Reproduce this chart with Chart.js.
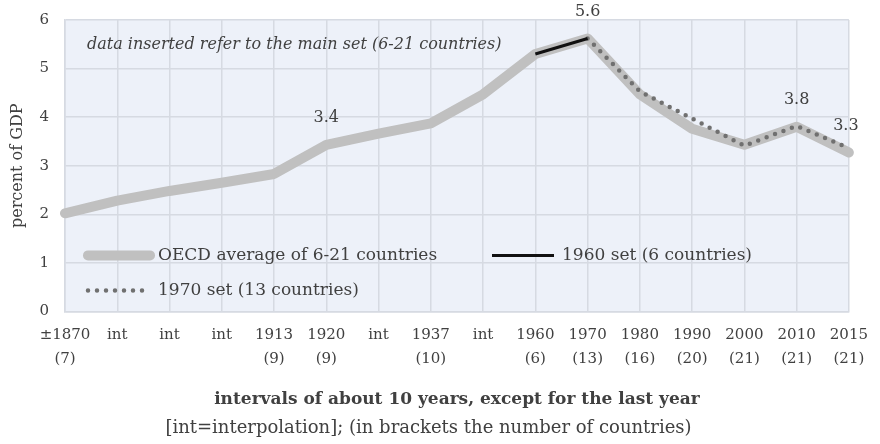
<!DOCTYPE html>
<html>
<head>
<meta charset="utf-8">
<script src="https://cdn.jsdelivr.net/npm/chart.js@4.4.1/dist/chart.umd.min.js"></script>
<style>
  html, body { margin: 0; padding: 0; background: #fff; }
  #wrap { width: 880px; height: 444px; }
</style>
</head>
<body>
<div id="wrap"><canvas id="myChart"></canvas></div>
<script>
var categories = ['±1870', 'int', 'int', 'int', '1913', '1920', 'int', '1937', 'int', '1960', '1970', '1980', '1990', '2000', '2010', '2015']
var countryCounts = ['(7)', '', '', '', '(9)', '(9)', '', '(10)', '', '(6)', '(13)', '(16)', '(20)', '(21)', '(21)', '(21)']
var oecdAverage = [2.02, 2.28, 2.48, 2.65, 2.83, 3.43, 3.66, 3.87, 4.47, 5.3, 5.62, 4.47, 3.76, 3.43, 3.8, 3.27]
var set1960 = [null, null, null, null, null, null, null, null, null, 5.3, 5.62, null, null, null, null, null]
var set1970 = [null, null, null, null, null, null, null, null, null, null, 5.62, 4.53, 3.97, 3.41, 3.82, 3.36]
var labelledPoints = [5, 10, 14, 15]
var yTicks = [0, 1, 2, 3, 4, 5, 6]

var serif = "'DejaVu Serif', serif"
var textColor = '#404040'

// plot background
var plotBg = {
    id: 'plotBg',
    beforeDraw: function(chart){
        var a = chart.chartArea, ctx = chart.ctx
        ctx.save()
        ctx.fillStyle = '#edf1f9'
        ctx.fillRect(a.left, a.top, a.right - a.left, a.bottom - a.top)
        ctx.restore()
    }
}

// value labels, note and legend inside the plot
var extras = {
    id: 'extras',
    afterDatasetsDraw: function(chart){
        var ctx = chart.ctx, a = chart.chartArea
        var meta = chart.getDatasetMeta(0)
        ctx.save()
        ctx.fillStyle = textColor
        ctx.font = '16px ' + serif
        ctx.textAlign = 'center'
        ctx.textBaseline = 'middle'
        labelledPoints.forEach(function(i){
            var p = meta.data[i]
            ctx.fillText(oecdAverage[i].toFixed(1), p.x - (i == 15 ? 3 : 0), p.y - 27)
        })

        ctx.font = 'italic 16px ' + serif
        ctx.textAlign = 'left'
        ctx.fillText('data inserted refer to the main set (6-21 countries)', a.left + 22, a.top + 25)

        // legend
        var ds = chart.data.datasets
        var items = [
            {d: ds[0], x: a.left + 23, y: a.bottom - 56},
            {d: ds[1], x: a.left + 427, y: a.bottom - 56},
            {d: ds[2], x: a.left + 23, y: a.bottom - 21}
        ]
        ctx.font = '17px ' + serif
        items.forEach(function(it){
            ctx.save()
            ctx.strokeStyle = it.d.borderColor
            ctx.lineWidth = it.d.borderWidth
            ctx.lineCap = it.d.borderCapStyle || 'butt'
            ctx.setLineDash(it.d.borderDash || [])
            ctx.beginPath()
            ctx.moveTo(it.x, it.y)
            ctx.lineTo(it.x + 62, it.y)
            ctx.stroke()
            ctx.restore()
            ctx.fillText(it.d.label, it.x + 70, it.y)
        })
        ctx.restore()
    }
}

var chart1 = new Chart(document.getElementById('myChart').getContext('2d'), {
    type: 'line',
    data: {
        labels: categories.map(function(c, i){ return countryCounts[i] ? [c, countryCounts[i]] : c }),
        datasets: [{
            label: 'OECD average of 6-21 countries',
            data: oecdAverage,
            borderColor: '#c0c0c0',
            borderWidth: 10,
            borderCapStyle: 'round',
            order: 3
        }, {
            label: '1960 set (6 countries)',
            data: set1960,
            borderColor: '#111111',
            borderWidth: 3,
            order: 1
        }, {
            label: '1970 set (13 countries)',
            data: set1970,
            borderColor: '#707070',
            borderWidth: 4.5,
            borderCapStyle: 'round',
            borderDash: [0, 9],
            order: 2
        }]
    },
    options: {
        responsive: true,
        maintainAspectRatio: false,
        animation: false,
        elements: { point: { radius: 0 }, line: { tension: 0, borderJoinStyle: 'round' } },
        layout: { padding: { top: 20, right: 23, left: 0, bottom: 0 } },
        plugins: {
            legend: { display: false },
            tooltip: { enabled: false },
            title: {
                display: true,
                position: 'bottom',
                text: '[int=interpolation]; (in brackets the number of countries)',
                color: textColor,
                font: { family: serif, size: 18, weight: 'normal' },
                padding: { top: 0, bottom: 5 }
            }
        },
        scales: {
            x: {
                offset: false,
                afterFit: function(s){ s.height = 106 },
                grid: { color: '#d6dae2', lineWidth: 1.5, drawTicks: false },
                border: { color: '#d6dae2', width: 1.5 },
                ticks: {
                    color: textColor, padding: 12, maxRotation: 0, autoSkip: false,
                    font: { family: serif, size: 15, lineHeight: 1.6 }
                },
                title: {
                    display: true,
                    text: 'intervals of about 10 years, except for the last year',
                    color: textColor,
                    font: { family: serif, size: 17, weight: 'bold' },
                    padding: { top: 0, bottom: 8 }
                }
            },
            y: {
                min: 0, max: 6,
                afterFit: function(s){ s.width = 65; s.paddingTop = 0 },
                afterBuildTicks: function(s){ s.ticks = yTicks.map(function(v){ return {value: v} }) },
                grid: { color: '#d6dae2', lineWidth: 1.5, drawTicks: false },
                border: { color: '#d6dae2', width: 1.5 },
                ticks: { color: textColor, padding: 16, font: { family: serif, size: 15 } },
                title: {
                    display: true,
                    text: 'percent of GDP',
                    color: textColor,
                    font: { family: serif, size: 16 },
                    padding: { top: 8, bottom: 0 }
                }
            }
        }
    },
    plugins: [plotBg, extras]
});
</script>
</body>
</html>
